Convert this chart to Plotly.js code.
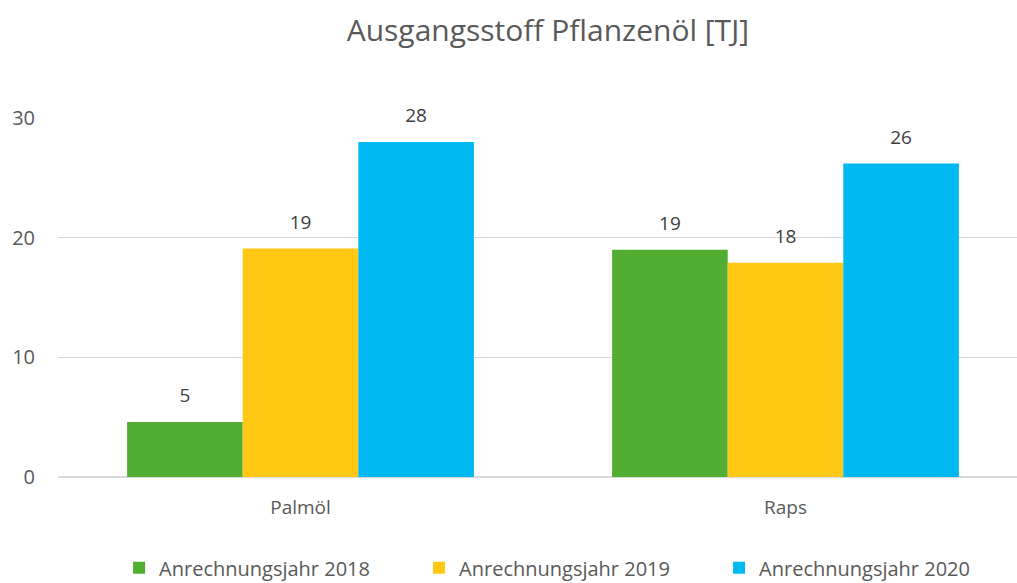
<!DOCTYPE html>
<html><head><meta charset="utf-8">
<script src="https://cdn.plot.ly/plotly-3.0.1.min.js"></script>
<style>html,body{margin:0;padding:0;overflow:hidden;background:#fff;width:1017px;height:583px}#c{width:1030px;height:583px}</style>
</head><body><div id="c"></div>
<script>
const categories = ["Palmöl", "Raps"];
const seriesNames = ["Anrechnungsjahr 2018", "Anrechnungsjahr 2019", "Anrechnungsjahr 2020"];
const values2018 = [4.6, 19.0];
const values2019 = [19.1, 17.9];
const values2020 = [28.0, 26.2];
const colors = ["#52AE32", "#FFC814", "#00B9F2"];
const allValues = [values2018, values2019, values2020];
const FONT = "Open Sans, sans-serif";

const bars = allValues.map((v, i) => ({
  type: "bar", x: categories, y: v, name: seriesNames[i],
  marker: {color: colors[i]}, offsetgroup: "g" + i,
  hoverinfo: "none"
}));
const labels = allValues.map((v, i) => ({
  type: "scatter", mode: "markers+text", x: categories, y: v, showlegend: false,
  offsetgroup: "g" + i, marker: {size: 22, opacity: 0, color: colors[i]},
  texttemplate: "%{y:.0f}", textposition: "top center", cliponaxis: false,
  textfont: {family: FONT, size: 19, color: "#404040"}, hoverinfo: "none"
}));

const layout = {
  width: 1030, height: 583,
  margin: {l: 58, r: 2, t: 118, b: 106, autoexpand: false},
  paper_bgcolor: "#fff", plot_bgcolor: "#fff",
  title: {text: "Ausgangsstoff Pflanzenöl [TJ]", font: {family: FONT, size: 30, color: "#595959"},
          x: 0.505, xanchor: "center", xref: "paper", y: 0.948, yanchor: "middle"},
  barmode: "group", bargap: 0.285, bargroupgap: 0,
  scattermode: "group", scattergap: 0.285,
  xaxis: {type: "category", showgrid: false, zeroline: false, showline: false, ticks: "",
          tickfont: {family: FONT, size: 19, color: "#595959"}, ticklabelstandoff: 17},
  yaxis: {range: [0, 30], tickvals: [0, 10, 20, 30], showgrid: true, gridcolor: "#D9D9D9", gridwidth: 1.5,
          zeroline: true, zerolinecolor: "#D9D9D9", zerolinewidth: 1.5, showline: false, ticks: "",
          tickfont: {family: FONT, size: 20, color: "#595959"}, ticklabelstandoff: 22},
  showlegend: true,
  legend: {orientation: "h", xref: "container", yref: "container", x: 0.1156, xanchor: "left",
           y: 0.026, yanchor: "middle",
           font: {family: FONT, size: 20, color: "#595959"}, entrywidth: 255, entrywidthmode: "pixels",
           itemclick: false},
};
Plotly.newPlot("c", bars.concat(labels), layout, {displayModeBar: false, staticPlot: true});
</script></body></html>
